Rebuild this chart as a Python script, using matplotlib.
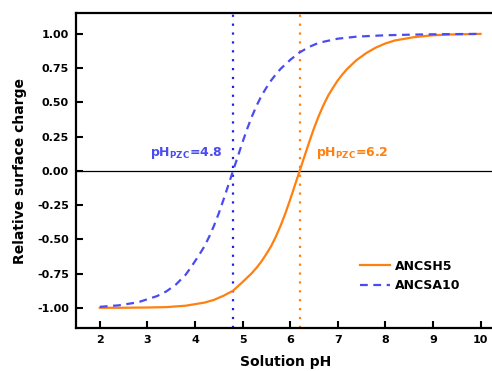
import matplotlib
matplotlib.use("Agg")
import matplotlib.pyplot as plt

plt.rcParams['font.family'] = ['DejaVu Sans']
plt.rcParams['font.weight'] = 'bold'
plt.rcParams['mathtext.fontset'] = 'dejavusans'

# Data
ph_h5 = [2.0, 2.4, 3.0, 3.4, 3.8, 4.2, 4.4, 4.6, 4.8, 5.0, 5.2, 5.3, 5.4, 5.5,
         5.6, 5.7, 5.8, 5.9, 6.0, 6.1, 6.2, 6.3, 6.4, 6.5, 6.6, 6.7, 6.8, 6.9,
         7.0, 7.1, 7.2, 7.4, 7.6, 7.8, 8.0, 8.2, 8.6, 9.0, 9.4, 10.0]
charge_h5 = [-1.0, -1.0, -0.998, -0.995, -0.985, -0.962, -0.942, -0.912, -0.875,
             -0.812, -0.745, -0.705, -0.66, -0.607, -0.55, -0.48, -0.40, -0.31,
             -0.21, -0.105, 0.0, 0.105, 0.21, 0.31, 0.40, 0.48, 0.55, 0.607,
             0.66, 0.705, 0.745, 0.81, 0.86, 0.90, 0.93, 0.952, 0.976, 0.99,
             0.996, 1.0]

ph_a10 = [2.0, 2.4, 2.8, 3.2, 3.4, 3.6, 3.8, 3.9, 4.0, 4.1, 4.2, 4.3, 4.4, 4.5,
          4.6, 4.7, 4.8, 4.9, 5.0, 5.1, 5.2, 5.3, 5.4, 5.5, 5.6, 5.7, 5.8, 6.0,
          6.2, 6.4, 6.6, 7.0, 7.4, 8.0, 8.6, 9.2, 10.0]
charge_a10 = [-0.993, -0.982, -0.96, -0.915, -0.88, -0.83, -0.76, -0.712, -0.66,
              -0.607, -0.55, -0.48, -0.40, -0.31, -0.21, -0.105, 0.0, 0.105,
              0.21, 0.31, 0.40, 0.48, 0.55, 0.607, 0.66, 0.705, 0.745, 0.81,
              0.865, 0.905, 0.935, 0.965, 0.98, 0.99, 0.995, 0.998, 1.0]

pzc_h5 = 6.2
pzc_a10 = 4.8
x_ticks = [2, 3, 4, 5, 6, 7, 8, 9, 10]
y_ticks = [-1.00, -0.75, -0.50, -0.25, 0.00, 0.25, 0.50, 0.75, 1.00]

orange = '#FF8010'
blue = '#4B4BF2'
blue_dark = '#1F1FE8'

fig = plt.figure(figsize=(4.92, 3.71), dpi=100)
ax = fig.add_axes([0.1545, 0.115, 1.025 - 0.1545, 0.964 - 0.115])
ax.set_xlim(1.5, 10.5)
ax.set_ylim(-1.15, 1.15)

ax.axhline(0, color='black', lw=0.9, zorder=1)
ax.axvline(pzc_a10, color=blue_dark, lw=1.6, linestyle=(0, (1, 3)), zorder=2)
ax.axvline(pzc_h5, color=orange, lw=1.6, linestyle=(0, (1, 3)), zorder=2)

ax.plot(ph_h5, charge_h5, color=orange, lw=1.6, label='ANCSH5', zorder=3)
ax.plot(ph_a10, charge_a10, color=blue, lw=1.6, linestyle=(0, (3.5, 2.5)),
        label='ANCSA10', zorder=4)

ax.text(4.58, 0.07, r'$\mathbf{pH_{PZC}}$=4.8', color=blue, fontsize=9,
        ha='right', va='bottom')
ax.text(6.55, 0.07, r'$\mathbf{pH_{PZC}}$=6.2', color=orange, fontsize=9,
        ha='left', va='bottom')

ax.set_xticks(x_ticks)
ax.set_yticks(y_ticks)
ax.set_yticklabels([f'{v:.2f}' for v in y_ticks])
ax.tick_params(direction='in', length=5, width=1.5, labelsize=8, pad=5)
for lab in ax.get_xticklabels() + ax.get_yticklabels():
    lab.set_fontweight('bold')
for s in ax.spines.values():
    s.set_linewidth(1.6)

ax.set_xlabel('Solution pH', fontsize=10, fontweight='bold')
ax.set_ylabel('Relative surface charge', fontsize=10, fontweight='bold')
ax.xaxis.set_label_coords((285 - 76) / (504 - 76), -0.085)
ax.yaxis.set_label_coords(-0.115, 0.5)

leg = ax.legend(loc='upper left', bbox_to_anchor=((355 - 76) / (504 - 76), 1 - (255 - 13) / 316),
                frameon=False, fontsize=9, handlelength=2.4, handletextpad=0.4,
                labelspacing=0.55, borderaxespad=0)
for t in leg.get_texts():
    t.set_fontweight('bold')

fig.savefig('out.png', dpi=100)
